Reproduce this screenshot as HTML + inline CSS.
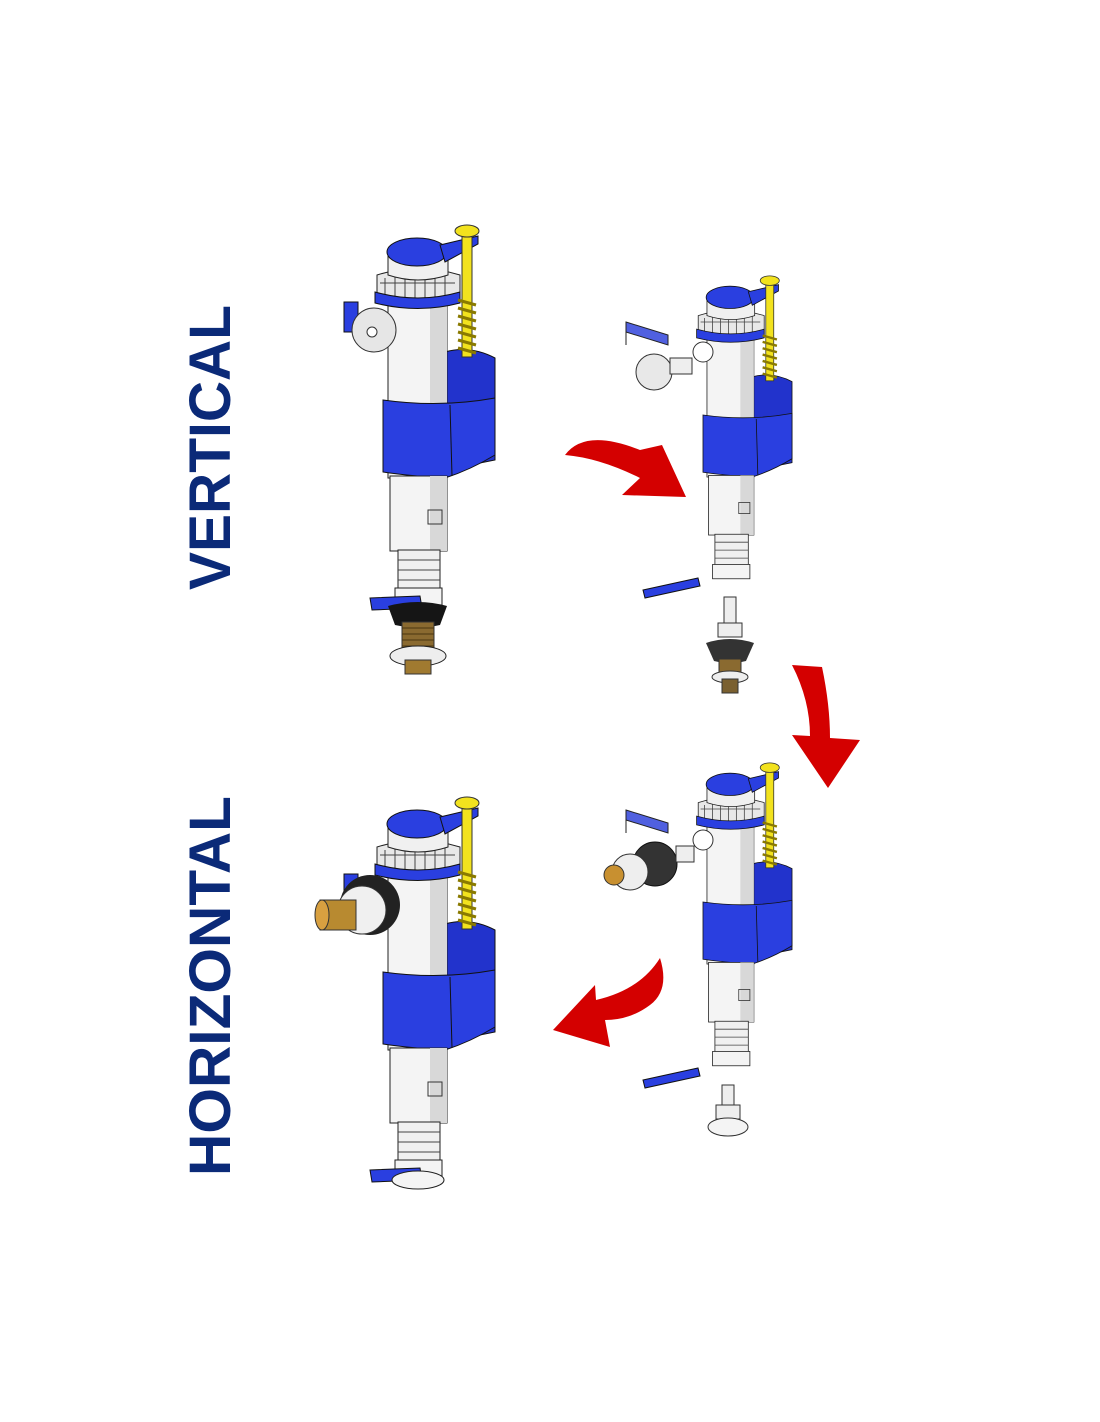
<!DOCTYPE html>
<html><head><meta charset="utf-8"><style>
html,body{margin:0;padding:0;background:#fff;}
svg{display:block;}
text{font-family:"Liberation Sans",sans-serif;font-weight:bold;fill:#0b2a78;}
</style></head><body>
<svg width="1100" height="1422" viewBox="0 0 1100 1422" xmlns="http://www.w3.org/2000/svg">
<defs>
<g id="top">
  <!-- float back -->
  <path d="M445 352 Q470 345 495 358 L495 460 L445 470 Z" fill="#2233cc" stroke="#111" stroke-width="1"/>
  <!-- tube -->
  <rect x="388" y="298" width="59" height="180" fill="#f4f4f4" stroke="#222" stroke-width="1"/>
  <rect x="430" y="298" width="17" height="180" fill="#d8d8d8"/>
  <!-- float band -->
  <path d="M383 400 Q440 408 495 398 L495 455 Q470 470 445 478 Q410 476 383 472 Z" fill="#2a3fe0" stroke="#111" stroke-width="1"/>
  <path d="M450 405 L452 476" stroke="#111" stroke-width="1"/>
  <!-- toothed ring -->
  <path d="M377 275 Q418 262 460 275 L460 300 Q418 310 377 300 Z" fill="#e8e8e8" stroke="#222" stroke-width="1"/>
  <path d="M380 283 L455 283 M385 278 L385 295 M395 275 L395 297 M405 273 L405 298 M415 272 L415 298 M425 272 L425 298 M435 273 L435 298 M445 275 L445 297" stroke="#444" stroke-width="1"/>
  <path d="M375 292 Q418 304 460 292 L460 303 Q418 314 375 303 Z" fill="#2a3fe0" stroke="#111" stroke-width="1"/>
  <!-- cap -->
  <path d="M388 252 L388 275 Q418 285 448 275 L448 252 Z" fill="#f0f0f0" stroke="#222" stroke-width="1"/>
  <ellipse cx="417" cy="252" rx="30" ry="14" fill="#2a3fe0" stroke="#111" stroke-width="1"/>
  <path d="M440 245 L478 236 L478 244 L445 262 Z" fill="#2a3fe0" stroke="#111" stroke-width="1"/>
  <!-- yellow rod + spring -->
  <rect x="462" y="232" width="10" height="125" fill="#f2e21e" stroke="#333" stroke-width="1"/>
  <path d="M458 300 L476 305 M458 308 L476 313 M458 316 L476 321 M458 324 L476 329 M458 332 L476 337 M458 340 L476 345 M458 348 L476 353" stroke="#8a7a00" stroke-width="3"/>
  <ellipse cx="467" cy="231" rx="12" ry="6" fill="#f2e21e" stroke="#333" stroke-width="1"/>
  <!-- lower tube -->
  <rect x="390" y="476" width="57" height="75" fill="#f4f4f4" stroke="#222" stroke-width="1"/>
  <rect x="430" y="476" width="17" height="75" fill="#d8d8d8"/>
  <rect x="428" y="510" width="14" height="14" fill="none" stroke="#333"/>
  <!-- spring section -->
  <rect x="398" y="550" width="42" height="40" fill="#f0f0f0" stroke="#222" stroke-width="1"/>
  <path d="M398 560 L440 560 M398 570 L440 570 M398 580 L440 580" stroke="#444"/>
</g>
<g id="vbottom">
  <rect x="395" y="588" width="47" height="18" fill="#f4f4f4" stroke="#222"/>
  <path d="M370 598 L420 596 L422 608 L372 610 Z" fill="#2a3fe0" stroke="#111"/>
  <path d="M388 606 Q418 598 447 606 L440 625 Q418 630 395 625 Z" fill="#151515"/>
  <rect x="402" y="622" width="32" height="30" fill="#8a6a30" stroke="#333"/>
  <path d="M402 628 L434 628 M402 634 L434 634 M402 640 L434 640 M402 646 L434 646" stroke="#4a3510"/>
  <ellipse cx="418" cy="656" rx="28" ry="10" fill="#eee" stroke="#222"/>
  <rect x="405" y="660" width="26" height="14" fill="#a07a30" stroke="#333"/>
</g>
<g id="hbottom">
  <rect x="395" y="588" width="47" height="18" fill="#f4f4f4" stroke="#222"/>
  <path d="M370 598 L420 596 L422 608 L372 610 Z" fill="#2a3fe0" stroke="#111"/>
</g>
<g id="disc">
  <rect x="344" y="302" width="14" height="30" fill="#2a3fe0" stroke="#111"/>
  <circle cx="374" cy="330" r="22" fill="#e6e6e6" stroke="#333"/>
  <circle cx="372" cy="332" r="5" fill="#fff" stroke="#333"/>
</g>
<path id="arrow" fill="#d40000" d=""/>
</defs>

<text transform="translate(230,590) rotate(-90)" font-size="58" textLength="285" lengthAdjust="spacingAndGlyphs">VERTICAL</text>
<text transform="translate(230,1176) rotate(-90)" font-size="58" textLength="380" lengthAdjust="spacingAndGlyphs">HORIZONTAL</text>

<!-- big vertical valve -->
<use href="#top"/>
<use href="#vbottom"/>
<use href="#disc"/>

<!-- top-right valve -->
<g transform="translate(398.5,97) scale(0.795)">
  <use href="#top"/>
  <rect x="395" y="588" width="47" height="18" fill="#f4f4f4" stroke="#222"/>
</g>
<path d="M626 322 L668 335 L668 345 L626 332 Z M626 322 L626 345" fill="#5060e0" stroke="#222"/>
<circle cx="654" cy="372" r="18" fill="#e8e8e8" stroke="#333"/>
<rect x="670" y="358" width="22" height="16" fill="#eee" stroke="#333"/>
<circle cx="703" cy="352" r="10" fill="#fff" stroke="#333"/>
<path d="M643 590 L698 578 L700 586 L645 598 Z" fill="#2a3fe0" stroke="#111"/>
<g transform="translate(730,655)">
  <rect x="-6" y="-58" width="12" height="28" fill="#eee" stroke="#333"/>
  <rect x="-12" y="-32" width="24" height="14" fill="#eee" stroke="#333"/>
  <path d="M-24 -12 Q0 -20 24 -12 L16 6 Q0 10 -16 6 Z" fill="#333"/>
  <rect x="-11" y="4" width="22" height="18" fill="#8a6a30" stroke="#333"/>
  <ellipse cx="0" cy="22" rx="18" ry="6" fill="#eee" stroke="#333"/>
  <rect x="-8" y="24" width="16" height="14" fill="#7a6030" stroke="#333"/>
</g>

<!-- bottom-right valve -->
<g transform="translate(398.5,584) scale(0.795)">
  <use href="#top"/>
  <rect x="395" y="588" width="47" height="18" fill="#f4f4f4" stroke="#222"/>
</g>
<path d="M626 810 L668 823 L668 833 L626 820 Z M626 810 L626 833" fill="#5060e0" stroke="#222"/>
<circle cx="655" cy="864" r="22" fill="#333" stroke="#111"/>
<circle cx="630" cy="872" r="18" fill="#eee" stroke="#333"/>
<circle cx="614" cy="875" r="10" fill="#c89030" stroke="#333"/>
<rect x="676" y="846" width="18" height="16" fill="#eee" stroke="#333"/>
<circle cx="703" cy="840" r="10" fill="#fff" stroke="#333"/>
<path d="M643 1080 L698 1068 L700 1076 L645 1088 Z" fill="#2a3fe0" stroke="#111"/>
<g transform="translate(728,1115)">
  <rect x="-6" y="-30" width="12" height="22" fill="#eee" stroke="#333"/>
  <rect x="-12" y="-10" width="24" height="14" fill="#eee" stroke="#333"/>
  <ellipse cx="0" cy="12" rx="20" ry="9" fill="#f4f4f4" stroke="#333"/>
</g>

<!-- big horizontal valve -->
<g transform="translate(0,572)">
  <use href="#top"/>
  <use href="#hbottom"/>
  <ellipse cx="418" cy="608" rx="26" ry="9" fill="#f4f4f4" stroke="#222"/>
</g>
<rect x="344" y="874" width="14" height="30" fill="#2a3fe0" stroke="#111"/>
<circle cx="370" cy="905" r="30" fill="#222"/>
<circle cx="362" cy="910" r="24" fill="#f0f0f0" stroke="#333"/>
<rect x="320" y="900" width="36" height="30" fill="#b88a30" stroke="#333"/>
<ellipse cx="322" cy="915" rx="7" ry="15" fill="#d8a040" stroke="#333"/>

<!-- red arrows -->
<path fill="#d40000" d="M565 455 Q585 428 640 450 L662 445 L686 497 L622 495 L640 478 Q600 458 565 455 Z"/>
<path fill="#d40000" d="M792 665 L822 667 Q830 705 830 738 L860 740 L828 788 L792 735 L810 736 Q810 700 792 665 Z"/>
<path fill="#d40000" d="M660 958 Q670 990 650 1005 Q630 1020 605 1020 L610 1047 L553 1030 L595 985 L596 1000 Q640 990 660 958 Z"/>
</svg>
</body></html>
